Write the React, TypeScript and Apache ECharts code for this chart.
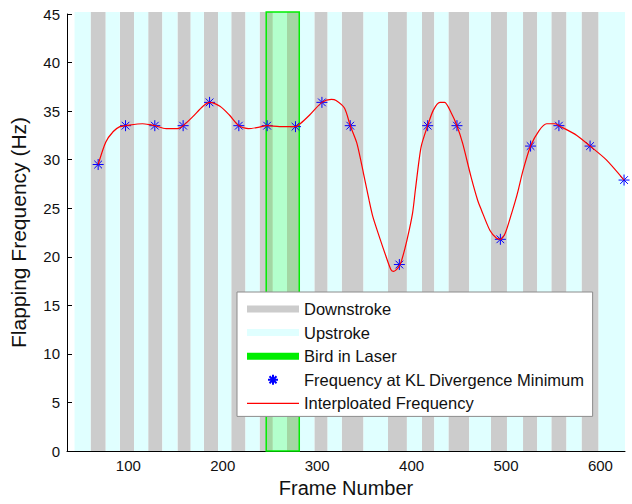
import React, { useEffect, useRef } from "react";
import * as echarts from "echarts";

// Stroke phases (frame ranges)
const downstrokeRanges: number[][] = [
  [60, 76], [91, 106], [121, 136], [152, 166], [180, 195], [209, 224], [239, 253],
  [268, 281], [297, 311], [326, 349], [375, 395], [411, 424], [439, 461], [484, 501],
  [518, 533], [548, 564], [580, 598],
];
const upstrokeRanges: number[][] = [
  [43, 60], [76, 91], [106, 121], [136, 152], [166, 180], [195, 209], [224, 239],
  [253, 268], [281, 297], [311, 326], [349, 375], [395, 411], [424, 439], [461, 484],
  [501, 518], [533, 548], [564, 580], [598, 626],
];
const laserRanges: number[][] = [[246, 281]];

// Frequency at KL divergence minimum
const klFrames = [68, 97, 128, 158, 186, 217, 247, 277, 305, 335, 387, 417, 448, 494, 526, 556, 589, 625];
const klHz = [29.5, 33.5, 33.5, 33.5, 35.9, 33.5, 33.5, 33.4, 35.9, 33.5, 19.2, 33.5, 33.5, 21.8, 31.4, 33.5, 31.4, 27.9];

// Interpolated frequency curve
const interpFrames = [68, 76, 84, 91, 97, 115, 123, 128, 140, 152, 158, 168, 179, 186, 197, 207, 217, 227, 236, 247,
  260, 277, 282, 292, 305, 315, 320, 329, 335, 342, 349, 355, 359, 366, 373, 378, 381, 386, 389, 395, 401, 404, 410,
  417, 423, 430, 435, 442, 448, 454, 463, 470, 474, 483, 490, 494, 499, 506, 510, 513, 518, 526, 535, 543, 552, 556,
  575, 589, 606, 625];
const interpHz = [29.5, 31.8, 32.9, 33.4, 33.5, 33.7, 33.6, 33.5, 33.2, 33.2, 33.5, 34.4, 35.5, 35.9, 35.5, 34.6, 33.5,
  33.2, 33.3, 33.5, 33.4, 33.4, 33.7, 34.6, 35.9, 36.2, 36.1, 35.3, 33.5, 31.7, 28.6, 25.8, 24.1, 22.0, 20.0, 18.7,
  18.5, 18.9, 19.5, 21.7, 24.5, 26.9, 31.3, 33.5, 35.1, 35.9, 35.9, 34.8, 33.5, 31.7, 28.2, 25.8, 24.8, 22.7, 21.9,
  21.8, 22.4, 24.5, 25.8, 26.9, 28.9, 31.4, 33.0, 33.7, 33.7, 33.5, 32.5, 31.4, 30.0, 27.9];

const X_MIN = 35;
const X_MAX = 626;
const Y_MIN = 0;
const Y_MAX = 45;
const Y_INTERVAL = 5;
const BAND_TOP = 45.2;

const FONT = "'Liberation Sans', Arial, Helvetica, sans-serif";
const ASTERISK = "path://M5,0V10M0,5H10M1.5,1.5L8.5,8.5M8.5,1.5L1.5,8.5";
const BAR_ICON = "path://M0,0H52V7H0Z";
const LINE_ICON = "path://M0,0H52V1.2H0Z";

function bandSeries(name: string, ranges: number[][], fill: string, stroke?: string, lineWidth?: number) {
  return {
    type: "custom",
    name,
    data: ranges,
    encode: { x: [0, 1] },
    itemStyle: { color: fill },
    silent: true,
    renderItem: (_params: any, api: any) => {
      const p0 = api.coord([api.value(0), BAND_TOP]);
      const p1 = api.coord([api.value(1), Y_MIN]);
      return {
        type: "rect",
        shape: { x: p0[0], y: p0[1], width: p1[0] - p0[0], height: p1[1] - p0[1] },
        style: stroke ? { fill, stroke, lineWidth } : { fill },
      };
    },
  };
}

export default function App() {
  const ref = useRef<HTMLDivElement>(null);
  useEffect(() => {
    document.body.style.margin = "0";
    if (!ref.current) return;
    const chart = echarts.init(ref.current, undefined, { renderer: "svg" });
    chart.setOption({
      animation: false,
      backgroundColor: "#ffffff",
      grid: { left: 67, right: 7, top: 14, bottom: 53 },
      xAxis: {
        type: "value",
        min: X_MIN,
        max: X_MAX,
        name: "Frame Number",
        nameLocation: "middle",
        nameGap: 27,
        nameTextStyle: { fontSize: 20, color: "#111", fontFamily: FONT },
        axisLine: { show: true, lineStyle: { color: "#000", width: 1 } },
        axisTick: { show: false },
        splitLine: { show: false },
        axisLabel: {
          fontSize: 15,
          color: "#111",
          fontFamily: FONT,
          margin: 7,
          formatter: (v: number) => (v % 100 === 0 ? String(v) : ""),
        },
      },
      yAxis: {
        type: "value",
        min: Y_MIN,
        max: Y_MAX,
        interval: Y_INTERVAL,
        name: "Flapping Frequency (Hz)",
        nameLocation: "middle",
        nameGap: 38,
        nameTextStyle: { fontSize: 21, color: "#111", fontFamily: FONT },
        axisLine: { show: true, lineStyle: { color: "#000", width: 1 } },
        axisTick: { show: true, inside: true, length: 5, lineStyle: { color: "#000" } },
        splitLine: { show: false },
        axisLabel: { fontSize: 15, color: "#111", fontFamily: FONT, margin: 7 },
      },
      legend: {
        orient: "vertical",
        left: 237,
        top: 292,
        itemWidth: 52,
        itemHeight: 10,
        itemGap: 5.6,
        padding: [8, 8, 4, 10],
        backgroundColor: "#ffffff",
        borderColor: "#8c8c8c",
        borderWidth: 1,
        borderRadius: 0,
        selectedMode: false,
        textStyle: { fontSize: 16.5, color: "#111", fontFamily: FONT, lineHeight: 18 },
        data: [
          { name: "Downstroke", icon: BAR_ICON, itemStyle: { color: "#cccccc" } },
          { name: "Upstroke", icon: BAR_ICON, itemStyle: { color: "#e0ffff" } },
          { name: "Bird in Laser", icon: BAR_ICON, itemStyle: { color: "#00ee00" } },
          { name: "Frequency at KL Divergence Minimum" },
          { name: "Interploated Frequency", icon: LINE_ICON, itemStyle: { color: "#ff0000", borderWidth: 0 } },
        ],
      },
      series: [
        bandSeries("Downstroke", downstrokeRanges, "#cccccc"),
        bandSeries("Upstroke", upstrokeRanges, "#e0ffff"),
        bandSeries("Bird in Laser", laserRanges, "rgba(0,255,0,0.2)", "#00ee00", 1.5),
        {
          type: "line",
          name: "Interploated Frequency",
          data: interpFrames.map((f, i) => [f, interpHz[i]]),
          symbol: "none",
          showSymbol: false,
          smooth: 0.25,
          lineStyle: { color: "#ff0000", width: 1.2 },
          itemStyle: { color: "#ff0000" },
          silent: true,
        },
        {
          type: "scatter",
          name: "Frequency at KL Divergence Minimum",
          data: klFrames.map((f, i) => [f, klHz[i]]),
          symbol: ASTERISK,
          symbolSize: 11,
          itemStyle: { color: "#0000ff", borderColor: "#0000ff", borderWidth: 1, opacity: 1 },
          silent: true,
        },
      ],
    });
    return () => chart.dispose();
  }, []);
  return (
    <div
      ref={ref}
      style={{ position: "absolute", left: 0, top: 0, width: 632, height: 504 }}
    />
  );
}
